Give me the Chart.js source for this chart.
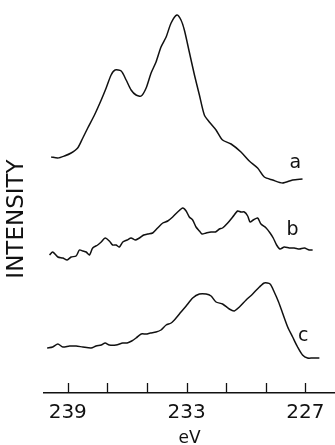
<!DOCTYPE html>
<html>
<head>
<meta charset="utf-8">
<script src="https://cdn.jsdelivr.net/npm/chart.js@4.4.1/dist/chart.umd.min.js"></script>
<style>
  html, body { margin: 0; padding: 0; background: #fff; }
</style>
</head>
<body>
<canvas id="myChart" width="335" height="445"></canvas>
<script>
// binding energy (eV) and intensity (arb. units, spectra stacked)

// spectrum a
const evA = [239.84, 239.50, 239.17, 238.83, 238.50, 238.24, 237.99, 237.65, 237.31, 237.06,
             236.81, 236.61, 236.30, 236.05, 235.80, 235.55, 235.29, 235.04, 234.79, 234.54,
             234.29, 234.03, 233.78, 233.49, 233.28, 233.11, 232.86, 232.60, 232.35, 232.10,
             231.85, 231.51, 231.18, 230.75, 230.25, 229.83, 229.41, 229.07, 228.65, 228.15,
             227.64, 227.14];
const intA = [236, 235, 237, 240, 245, 255, 265, 278, 293, 305,
              318, 323, 322, 313, 303, 298, 297, 305, 320, 331,
              346, 356, 370, 378, 373, 363, 341, 318, 298, 278,
              271, 263, 253, 249, 241, 232, 225, 216, 213, 210,
              213, 214];

// spectrum b
const evB = [239.92, 239.76, 239.50, 239.25, 239.03, 238.83, 238.58, 238.41, 238.24, 238.07,
             237.90, 237.74, 237.49, 237.31, 237.11, 236.90, 236.73, 236.56, 236.39, 236.22,
             236.00, 235.80, 235.60, 235.38, 235.16, 234.96, 234.71, 234.46, 234.20, 233.95,
             233.70, 233.45, 233.19, 233.02, 232.86, 232.69, 232.52, 232.35, 232.22, 232.01,
             231.76, 231.54, 231.34, 231.18, 230.92, 230.67, 230.42, 230.25, 230.08, 229.91,
             229.79, 229.63, 229.41, 229.24, 228.98, 228.78, 228.62, 228.45, 228.28, 228.06,
             227.81, 227.56, 227.30, 227.05, 226.80, 226.63];
const intB = [138, 141, 136, 135, 133, 136, 137, 143, 142, 141,
              138, 145, 148, 151, 155, 152, 148, 148, 146, 151,
              153, 155, 153, 155, 158, 159, 160, 165, 170, 172,
              176, 181, 185, 182, 176, 173, 166, 162, 159, 160,
              161, 161, 164, 165, 170, 176, 182, 181, 181, 177,
              171, 173, 175, 169, 165, 160, 155, 148, 144, 146,
              145, 145, 144, 145, 143, 143];

// spectrum c
const evC = [240.04, 239.76, 239.50, 239.25, 238.91, 238.58, 238.24, 237.82, 237.57, 237.31,
             237.11, 236.90, 236.56, 236.22, 236.00, 235.77, 235.55, 235.29, 235.04, 234.83,
             234.54, 234.29, 234.03, 233.78, 233.53, 233.28, 233.02, 232.69, 232.35, 232.01,
             231.76, 231.51, 231.18, 230.84, 230.59, 230.33, 229.99, 229.66, 229.32, 229.07,
             228.78, 228.57, 228.35, 228.15, 227.89, 227.64, 227.39, 227.14, 226.89, 226.63,
             226.29];
const intC = [45, 46, 49, 46, 47, 47, 46, 45, 47, 48,
              50, 48, 48, 50, 50, 52, 55, 59, 59, 60,
              61, 63, 68, 70, 75, 81, 87, 95, 99, 99,
              97, 91, 89, 84, 82, 86, 93, 99, 106, 110,
              109, 101, 91, 80, 66, 56, 46, 38, 35, 35,
              35];

const curveNames = ['a', 'b', 'c'];
const nameEv = [227.5, 227.65, 227.1];
const nameInt = [230, 163, 57];

const tickValues = [239, 237, 235, 233, 231, 229, 227];
const tickLabels = ['239', '', '', '233', '', '', '227'];

function points(ev, val) {
    return ev.map((e, i) => ({ x: e, y: val[i] }));
}

function curve(label, ev, val) {
    return {
        label: label,
        data: points(ev, val),
        borderColor: '#111',
        borderWidth: 1.5,
        pointRadius: 0,
        tension: 0.25,
        fill: false,
        clip: false
    };
}

// tick marks standing up from the axis, and the a/b/c names
const extras = {
    id: 'extras',
    afterDatasetsDraw(chart) {
        const { ctx, chartArea, scales: { x, y } } = chart;
        ctx.save();
        ctx.strokeStyle = '#111';
        ctx.lineWidth = 1.3;
        tickValues.forEach(v => {
            const px = Math.round(x.getPixelForValue(v)) + 0.5;
            ctx.beginPath();
            ctx.moveTo(px, chartArea.bottom);
            ctx.lineTo(px, chartArea.bottom - 10);
            ctx.stroke();
        });
        ctx.fillStyle = '#111';
        ctx.font = '19px "DejaVu Sans"';
        ctx.textAlign = 'center';
        ctx.textBaseline = 'middle';
        curveNames.forEach((n, i) => {
            ctx.fillText(n, x.getPixelForValue(nameEv[i]), y.getPixelForValue(nameInt[i]));
        });
        ctx.restore();
    }
};

const ctx = document.getElementById('myChart').getContext('2d');

const myChart = new Chart(ctx, {
    type: 'line',
    data: {
        datasets: [
            curve('a', evA, intA),
            curve('b', evB, intB),
            curve('c', evC, intC)
        ]
    },
    options: {
        responsive: false,
        animation: false,
        events: [],
        layout: { padding: { top: 45, right: 0, bottom: 0, left: 0 } },
        plugins: {
            legend: { display: false },
            tooltip: { enabled: false }
        },
        scales: {
            x: {
                type: 'linear',
                reverse: true,
                min: 225.5,
                max: 240.2,
                afterBuildTicks: scale => {
                    scale.ticks = tickValues.map(v => ({ value: v }));
                },
                afterFit: scale => { scale.height = 52; },
                grid: { display: false, drawTicks: false },
                border: { display: true, color: '#111', width: 1.5 },
                ticks: {
                    autoSkip: false,
                    maxRotation: 0,
                    padding: 10,
                    color: '#111',
                    font: { family: 'DejaVu Sans', size: 20, lineHeight: 1 },
                    callback: (v, i) => tickLabels[tickValues.indexOf(v)] ?? ''
                },
                title: {
                    display: true,
                    text: 'eV',
                    color: '#111',
                    font: { family: 'DejaVu Sans', size: 17, lineHeight: 0.8 },
                    padding: { top: 0, bottom: 0 }
                }
            },
            y: {
                min: 0,
                max: 348,
                afterFit: scale => { scale.width = 44; },
                grid: { display: false, drawTicks: false },
                border: { display: false },
                ticks: { display: false },
                title: {
                    display: true,
                    text: 'INTENSITY',
                    color: '#111',
                    font: { family: 'DejaVu Sans', size: 23, lineHeight: 1.2 },
                    padding: { top: 3, bottom: 0 }
                }
            }
        }
    },
    plugins: [extras]
});
</script>
</body>
</html>
